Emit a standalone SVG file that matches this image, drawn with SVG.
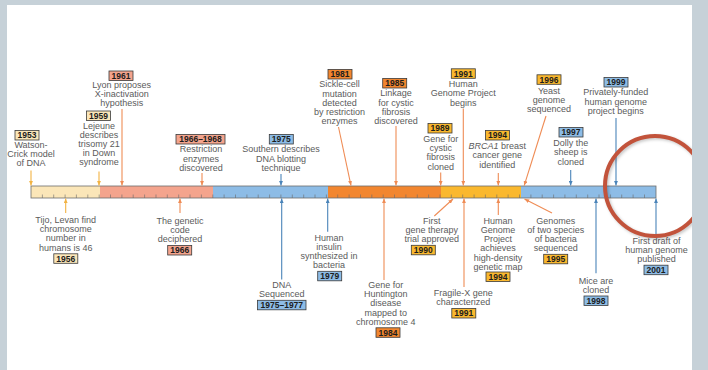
<svg xmlns="http://www.w3.org/2000/svg" width="708" height="370" viewBox="0 0 708 370">
  <defs>
    <style>
      .t { font-family: "Liberation Sans", Arial, sans-serif; font-size: 9px; fill: #5b5b5b; text-anchor: middle; }
      .y { font-family: "Liberation Sans", Arial, sans-serif; font-size: 8.5px; font-weight: bold; fill: #1c1c1c; text-anchor: middle; }
      .box { stroke: #3a3a3a; stroke-width: 0.8; }
      .pale { fill: #fbe6b8; }
      .salmon { fill: #f4a48d; }
      .blue { fill: #8dbce6; }
      .orange { fill: #f2862f; }
      .gold { fill: #fab82e; }
      .ag { stroke: #f2b343; stroke-width: 1.1; fill: none; marker-end: url(#hg); }
      .ao { stroke: #ef8c55; stroke-width: 1.1; fill: none; marker-end: url(#ho); }
      .ab { stroke: #4a84b9; stroke-width: 1.1; fill: none; marker-end: url(#hb); }
      .tick { stroke: #6a6a6a; stroke-width: 0.6; }
    </style>
    <marker id="hg" viewBox="0 0 6 5" refX="6" refY="2.5" markerWidth="4.8" markerHeight="4" markerUnits="userSpaceOnUse" orient="auto">
      <path d="M0,0 L6,2.5 L0,5 z" fill="#f2b343"/>
    </marker>
    <marker id="ho" viewBox="0 0 6 5" refX="6" refY="2.5" markerWidth="4.8" markerHeight="4" markerUnits="userSpaceOnUse" orient="auto">
      <path d="M0,0 L6,2.5 L0,5 z" fill="#ef8c55"/>
    </marker>
    <marker id="hb" viewBox="0 0 6 5" refX="6" refY="2.5" markerWidth="4.8" markerHeight="4" markerUnits="userSpaceOnUse" orient="auto">
      <path d="M0,0 L6,2.5 L0,5 z" fill="#4a84b9"/>
    </marker>
    <filter id="soft" x="-20%" y="-20%" width="140%" height="140%">
      <feGaussianBlur stdDeviation="1.5"/>
    </filter>
  </defs>

  <!-- page -->
  <rect x="0" y="0" width="708" height="370" fill="#ffffff"/>

  <!-- timeline bar -->
  <g id="timeline">
    <rect x="31" y="186" width="69" height="12" class="pale"/>
    <rect x="100" y="186" width="113" height="12" class="salmon"/>
    <rect x="213" y="186" width="115" height="12" class="blue"/>
    <rect x="328" y="186" width="113" height="12" class="orange"/>
    <rect x="441" y="186" width="80" height="12" class="gold"/>
    <rect x="521" y="186" width="135" height="12" class="blue"/>
    <path class="tick" d="M42.4,198v-3.5M53.7,198v-3.5M65.1,198v-3.5M76.4,198v-3.5M87.8,198v-3.5M99.2,198v-3.5M110.5,198v-3.5M121.9,198v-3.5M133.2,198v-3.5M144.6,198v-3.5M156,198v-3.5M167.3,198v-3.5M178.7,198v-3.5M190,198v-3.5M201.4,198v-3.5M212.8,198v-3.5M224.1,198v-3.5M235.5,198v-3.5M246.9,198v-3.5M258.2,198v-3.5M269.6,198v-3.5M280.9,198v-3.5M292.3,198v-3.5M303.7,198v-3.5M315,198v-3.5M326.4,198v-3.5M337.7,198v-3.5M349.1,198v-3.5M360.5,198v-3.5M371.8,198v-3.5M383.2,198v-3.5M394.5,198v-3.5M405.9,198v-3.5M417.3,198v-3.5M428.6,198v-3.5M440,198v-3.5M451.3,198v-3.5M462.7,198v-3.5M474.1,198v-3.5M485.4,198v-3.5M496.8,198v-3.5M508.1,198v-3.5M519.5,198v-3.5M530.9,198v-3.5M542.2,198v-3.5M553.6,198v-3.5M564.9,198v-3.5M576.3,198v-3.5M587.7,198v-3.5M599,198v-3.5M610.4,198v-3.5M621.7,198v-3.5M633.1,198v-3.5M644.5,198v-3.5"/>
    <rect x="31" y="186" width="625" height="12" fill="none" stroke="#6d6d6d" stroke-width="0.8"/>
  </g>

  <!-- connectors -->
  <g id="connectors">
    <line class="ag" x1="31" y1="170.5" x2="31" y2="185.6"/>
    <line class="ag" x1="99" y1="171.5" x2="99" y2="185.6"/>
    <line class="ao" x1="122" y1="109" x2="122" y2="185.6"/>
    <line class="ao" x1="202" y1="173" x2="202" y2="185.6"/>
    <line class="ab" x1="281" y1="174" x2="281" y2="185.6"/>
    <line class="ao" x1="338.5" y1="127" x2="351" y2="185.6"/>
    <line class="ao" x1="396" y1="126" x2="396" y2="185.6"/>
    <line class="ao" x1="440.7" y1="172.5" x2="440.7" y2="185.6"/>
    <line class="ao" x1="463.3" y1="108.5" x2="463.3" y2="185.6"/>
    <line class="ao" x1="498.3" y1="173" x2="498.3" y2="185.6"/>
    <line class="ao" x1="546" y1="116" x2="524.2" y2="185.6"/>
    <line class="ab" x1="570.7" y1="170" x2="570.7" y2="185.6"/>
    <line class="ab" x1="616" y1="118" x2="616" y2="185.6"/>

    <line class="ag" x1="65.7" y1="213" x2="65.7" y2="198.4"/>
    <line class="ao" x1="180" y1="213" x2="180" y2="198.4"/>
    <line class="ab" x1="281.7" y1="279.5" x2="281.7" y2="198.4"/>
    <line class="ab" x1="327.7" y1="231.7" x2="327.7" y2="198.4"/>
    <line class="ao" x1="384" y1="280" x2="384" y2="198.4"/>
    <line class="ao" x1="434.3" y1="216" x2="453" y2="199"/>
    <line class="ao" x1="464" y1="287" x2="464" y2="198.4"/>
    <line class="ao" x1="498.3" y1="215" x2="498.3" y2="198.4"/>
    <line class="ao" x1="552" y1="213" x2="524.5" y2="199"/>
    <line class="ab" x1="596" y1="273.3" x2="596" y2="198.4"/>
    <line class="ab" x1="656" y1="236.7" x2="656" y2="198.4"/>
  </g>

  <!-- events above the bar -->
  <g id="e1953">
    <rect class="box pale" x="15" y="130.5" width="24" height="9.5"/>
    <text class="y" x="27" y="138.3">1953</text>
    <text class="t"><tspan x="31" y="148">Watson-</tspan><tspan x="31" y="157.2">Crick model</tspan><tspan x="31" y="166.4">of DNA</tspan></text>
  </g>
  <g id="e1959">
    <rect class="box pale" x="86.5" y="111" width="24" height="9.5"/>
    <text class="y" x="98.5" y="118.8">1959</text>
    <text class="t"><tspan x="99" y="129">Lejeune</tspan><tspan x="99" y="138.1">describes</tspan><tspan x="99" y="147.2">trisomy 21</tspan><tspan x="99" y="156.3">in Down</tspan><tspan x="99" y="165.4">syndrome</tspan></text>
  </g>
  <g id="e1961">
    <rect class="box salmon" x="109" y="71" width="24" height="9.5"/>
    <text class="y" x="121" y="78.8">1961</text>
    <text class="t"><tspan x="121.7" y="88">Lyon proposes</tspan><tspan x="121.7" y="96.9">X-inactivation</tspan><tspan x="121.7" y="105.8">hypothesis</tspan></text>
  </g>
  <g id="e1966-1968">
    <rect class="box salmon" x="176" y="134.5" width="49" height="9.5"/>
    <text class="y" x="200.5" y="142.3">1966–1968</text>
    <text class="t"><tspan x="201" y="152.3">Restriction</tspan><tspan x="201" y="161.5">enzymes</tspan><tspan x="201" y="170.7">discovered</tspan></text>
  </g>
  <g id="e1975">
    <rect class="box blue" x="269.3" y="134.5" width="24" height="9.5"/>
    <text class="y" x="281.3" y="142.3">1975</text>
    <text class="t"><tspan x="281" y="152.3">Southern describes</tspan><tspan x="281" y="161.5">DNA blotting</tspan><tspan x="281" y="170.7">technique</tspan></text>
  </g>
  <g id="e1981">
    <rect class="box orange" x="328" y="69.5" width="24" height="9.5"/>
    <text class="y" x="340" y="77.3">1981</text>
    <text class="t"><tspan x="339.5" y="87.3">Sickle-cell</tspan><tspan x="339.5" y="96.5">mutation</tspan><tspan x="339.5" y="105.7">detected</tspan><tspan x="339.5" y="114.9">by restriction</tspan><tspan x="339.5" y="124.1">enzymes</tspan></text>
  </g>
  <g id="e1985">
    <rect class="box orange" x="382.7" y="78.5" width="24" height="9.5"/>
    <text class="y" x="394.7" y="86.3">1985</text>
    <text class="t"><tspan x="396" y="96.3">Linkage</tspan><tspan x="396" y="105.5">for cystic</tspan><tspan x="396" y="114.7">fibrosis</tspan><tspan x="396" y="123.9">discovered</tspan></text>
  </g>
  <g id="e1989">
    <rect class="box gold" x="428" y="123.5" width="24" height="9.5"/>
    <text class="y" x="440" y="131.3">1989</text>
    <text class="t"><tspan x="440.7" y="142">Gene for</tspan><tspan x="440.7" y="151.2">cystic</tspan><tspan x="440.7" y="160.4">fibrosis</tspan><tspan x="440.7" y="169.6">cloned</tspan></text>
  </g>
  <g id="e1991-hgp">
    <rect class="box gold" x="451.3" y="68.8" width="24" height="9.5"/>
    <text class="y" x="463.3" y="76.6">1991</text>
    <text class="t"><tspan x="463.3" y="87">Human</tspan><tspan x="463.3" y="96.3">Genome Project</tspan><tspan x="463.3" y="105.6">begins</tspan></text>
  </g>
  <g id="e1994-brca1">
    <rect class="box gold" x="485.5" y="130.5" width="24" height="9.5"/>
    <text class="y" x="497.5" y="138.3">1994</text>
    <text class="t" x="497.3" y="149"><tspan font-style="italic">BRCA1</tspan> breast</text>
    <text class="t"><tspan x="497.3" y="158.3">cancer gene</tspan><tspan x="497.3" y="167.5">identified</tspan></text>
  </g>
  <g id="e1996">
    <rect class="box gold" x="537" y="74.8" width="24" height="9.5"/>
    <text class="y" x="549" y="82.6">1996</text>
    <text class="t"><tspan x="549" y="93.7">Yeast</tspan><tspan x="549" y="102.9">genome</tspan><tspan x="549" y="112.1">sequenced</tspan></text>
  </g>
  <g id="e1997">
    <rect class="box blue" x="559" y="127.5" width="24" height="9.5"/>
    <text class="y" x="571" y="135.3">1997</text>
    <text class="t"><tspan x="570.7" y="145.7">Dolly the</tspan><tspan x="570.7" y="155.1">sheep is</tspan><tspan x="570.7" y="164.5">cloned</tspan></text>
  </g>
  <g id="e1999">
    <rect class="box blue" x="604" y="77.5" width="24" height="9.5"/>
    <text class="y" x="616" y="85.3">1999</text>
    <text class="t"><tspan x="615.7" y="95.3">Privately-funded</tspan><tspan x="615.7" y="104.8">human genome</tspan><tspan x="615.7" y="114.3">project begins</tspan></text>
  </g>

  <!-- events below the bar -->
  <g id="e1956">
    <text class="t"><tspan x="65.7" y="223">Tijo, Levan find</tspan><tspan x="65.7" y="232.2">chromosome</tspan><tspan x="65.7" y="241.4">number in</tspan><tspan x="65.7" y="250.6">humans is 46</tspan></text>
    <rect class="box pale" x="53.8" y="253.8" width="24" height="9.5"/>
    <text class="y" x="65.8" y="261.6">1956</text>
  </g>
  <g id="e1966">
    <text class="t"><tspan x="180" y="224">The genetic</tspan><tspan x="180" y="233.2">code</tspan><tspan x="180" y="242.4">deciphered</tspan></text>
    <rect class="box salmon" x="167.7" y="245.5" width="24" height="9.5"/>
    <text class="y" x="179.7" y="253.3">1966</text>
  </g>
  <g id="e1975-1977">
    <text class="t"><tspan x="281.7" y="288">DNA</tspan><tspan x="281.7" y="297.2">Sequenced</tspan></text>
    <rect class="box blue" x="257.5" y="300.3" width="48.5" height="9.5"/>
    <text class="y" x="281.8" y="308.1">1975–1977</text>
  </g>
  <g id="e1979">
    <text class="t"><tspan x="329" y="240.7">Human</tspan><tspan x="329" y="249.9">insulin</tspan><tspan x="329" y="259.1">synthesized in</tspan><tspan x="329" y="268.3">bacteria</tspan></text>
    <rect class="box blue" x="317.7" y="271.3" width="24" height="9.5"/>
    <text class="y" x="329.7" y="279.1">1979</text>
  </g>
  <g id="e1984">
    <text class="t"><tspan x="385.7" y="288">Gene for</tspan><tspan x="385.7" y="297.2">Huntington</tspan><tspan x="385.7" y="306.4">disease</tspan><tspan x="385.7" y="315.6">mapped to</tspan><tspan x="385.7" y="324.8">chromosome 4</tspan></text>
    <rect class="box orange" x="376" y="327.8" width="24" height="9.5"/>
    <text class="y" x="388" y="335.6">1984</text>
  </g>
  <g id="e1990">
    <text class="t"><tspan x="431.7" y="223.7">First</tspan><tspan x="431.7" y="232.9">gene therapy</tspan><tspan x="431.7" y="242.1">trial approved</tspan></text>
    <rect class="box gold" x="411.3" y="245.3" width="24" height="9.5"/>
    <text class="y" x="423.3" y="253.1">1990</text>
  </g>
  <g id="e1991-fragx">
    <text class="t"><tspan x="463.3" y="295.7">Fragile-X gene</tspan><tspan x="463.3" y="304.9">characterized</tspan></text>
    <rect class="box gold" x="451.8" y="308.5" width="24" height="9.5"/>
    <text class="y" x="463.8" y="316.3">1991</text>
  </g>
  <g id="e1994-map">
    <text class="t"><tspan x="498" y="223.7">Human</tspan><tspan x="498" y="232.9">Genome</tspan><tspan x="498" y="242.1">Project</tspan><tspan x="498" y="251.3">achieves</tspan><tspan x="498" y="260.5">high-density</tspan><tspan x="498" y="269.7">genetic map</tspan></text>
    <rect class="box gold" x="486" y="272" width="24" height="9.5"/>
    <text class="y" x="498" y="279.8">1994</text>
  </g>
  <g id="e1995">
    <text class="t"><tspan x="555.7" y="223.7">Genomes</tspan><tspan x="555.7" y="232.9">of two species</tspan><tspan x="555.7" y="242.1">of bacteria</tspan><tspan x="555.7" y="251.3">sequenced</tspan></text>
    <rect class="box gold" x="543.7" y="254.3" width="24" height="9.5"/>
    <text class="y" x="555.7" y="262.1">1995</text>
  </g>
  <g id="e1998">
    <text class="t"><tspan x="596" y="283.7">Mice are</tspan><tspan x="596" y="292.9">cloned</tspan></text>
    <rect class="box blue" x="584" y="296" width="24" height="9.5"/>
    <text class="y" x="596" y="303.8">1998</text>
  </g>
  <g id="e2001">
    <text class="t"><tspan x="656.5" y="243.7">First draft of</tspan><tspan x="656.5" y="252.9">human genome</tspan><tspan x="656.5" y="262.1">published</tspan></text>
    <rect class="box blue" x="644" y="265.2" width="24" height="9.5"/>
    <text class="y" x="656" y="273">2001</text>
  </g>

  <!-- red ring highlighting the last years -->
  <g id="highlight">
    <circle cx="656.5" cy="187.5" r="50" fill="none" stroke="#000" stroke-opacity="0.22" stroke-width="4" filter="url(#soft)"/>
    <circle cx="655" cy="186" r="50" fill="none" stroke="#c2533b" stroke-width="4"/>
  </g>

  <!-- grey surround -->
  <g id="frame" fill="#c6d1d8">
    <rect x="0" y="0" width="708" height="5"/>
    <rect x="0" y="0" width="7" height="370"/>
    <rect x="692" y="0" width="16" height="370"/>
  </g>
</svg>
